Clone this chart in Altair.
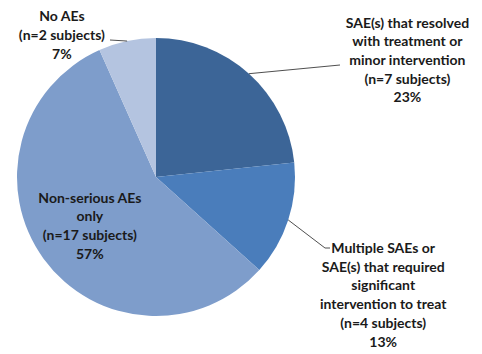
import altair as alt
import numpy as np
import pandas as pd

# ---- data ----
categories = [
    "SAE(s) resolved",
    "Multiple SAEs / significant intervention",
    "Non-serious AEs only",
    "No AEs",
]
label_heads = [
    ["SAE(s) that resolved", "with treatment or", "minor intervention"],
    ["Multiple SAEs or", "SAE(s) that required", "significant", "intervention to treat"],
    ["Non-serious AEs", "only"],
    ["No AEs"],
]
counts = [7, 4, 17, 2]
percents = [23, 13, 57, 7]
colors = ["#3C6597", "#4A7DBB", "#7E9DCB", "#B4C4E0"]

label_lines = [h + [f"(n={n} subjects)", f"{p}%"] for h, n, p in zip(label_heads, counts, percents)]
labels = ["\n".join(ls) for ls in label_lines]
df = pd.DataFrame({"cat": categories, "n": counts, "order": range(len(counts)), "label": labels})

# ---- layout (in code, not in the data) ----
W, H = 482, 354
CX, CY, R = 156, 177, 139
FONT = "Lato"
LH = 18.7

base = alt.Chart(df).encode(
    theta=alt.Theta("n:Q", stack=True),
    order=alt.Order("order:Q"),
    x=alt.value(CX),
    y=alt.value(CY),
)

pie = base.mark_arc(outerRadius=R).encode(
    color=alt.Color("cat:N", scale=alt.Scale(domain=categories, range=colors), legend=None)
)

# per-label placement: radius along mid-angle plus offset (centre of text block)
placements = {
    0: dict(radius=156, dx=147, dy=0),
    1: dict(radius=200, dx=37, dy=57),
    2: dict(radius=83, dx=1, dy=1),
    3: dict(radius=145, dx=-64, dy=1),
}

text_layers = []
for i, pl in placements.items():
    cat = categories[i]
    nl = len(label_lines[i])
    t = (
        base.transform_calculate(txt=f"datum.cat == '{cat}' ? datum.label : ''")
        .mark_text(
            radius=pl["radius"], dx=pl["dx"], dy=pl["dy"] - (nl - 1) * LH / 2, lineBreak="\n",
            font=FONT, fontSize=14, fontWeight="bold", color="#1a1a1a",
            align="center", baseline="middle", lineHeight=LH,
        )
        .encode(text="txt:N")
    )
    text_layers.append(t)

# leader lines: start on rim at each slice's mid-angle
total = sum(counts)
cum = np.cumsum(counts)
mid = (cum - np.array(counts) / 2) / total * 2 * np.pi
ends = {
    0: [(340, 65)],
    1: [(325, 248), (330, 248)],
    3: [(110, 40)],
}
rows = []
for i, pts in ends.items():
    rows.append(dict(line=i, step=0, px=CX + R * np.sin(mid[i]), py=CY - R * np.cos(mid[i])))
    for k, (ex, ey) in enumerate(pts):
        rows.append(dict(line=i, step=k + 1, px=ex, py=ey))
lines_df = pd.DataFrame(rows)

leaders = alt.Chart(lines_df).mark_line(color="#222222", strokeWidth=0.8).encode(
    x=alt.X("px:Q", scale=None),
    y=alt.Y("py:Q", scale=None),
    detail="line:N",
    order="step:Q",
)

chart = (
    alt.layer(pie, leaders, *text_layers)
    .properties(width=W, height=H, padding=0, autosize="none", background="white")
    .configure_view(stroke=None)
)

chart.save("out.html", embed_options={"renderer": "svg", "actions": False})
